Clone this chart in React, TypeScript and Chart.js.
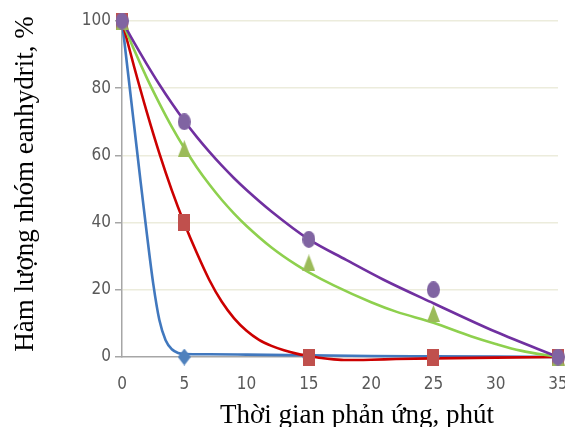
import { useEffect, useRef } from 'react';
import { Chart, registerables } from 'chart.js';

Chart.register(...registerables);

// ---- data ----
const markerTimes = [0, 5, 15, 25, 35];
const markerBlue = [100, 0, 0, 0, 0];
const markerRed = [100, 40, 0, 0, 0];
const markerGreen = [100, 62, 28, 13, 0];
const markerPurple = [100, 70, 35, 20, 0];

const curveBlueX = [0, 0.5, 1, 1.5, 2, 2.5, 3, 3.5, 4, 4.5, 5, 7, 10, 15, 20, 25, 30, 35];
const curveBlueY = [100, 84, 68, 52, 36.5, 22, 11, 5, 2.3, 1.2, 0.9, 0.8, 0.7, 0.5, 0.3, 0.2, 0.1, 0];

const curveRedX = [0, 1, 2, 3, 4, 5, 6, 7, 8, 9, 10, 11, 12, 13, 14, 15, 16, 17, 18, 20, 22, 25, 30, 35];
const curveRedY = [100, 86, 72.8, 60.6, 49.6, 39.8, 31, 23, 16.5, 11.5, 7.8, 5.1, 3.3, 2, 1, 0.3, -0.3, -0.7, -0.9, -0.8, -0.6, -0.4, -0.2, 0];

const curveGreenX = [0, 1, 2, 3, 4, 5, 6, 7, 8, 9, 10, 12, 14, 15, 17, 20, 22, 25, 28, 30, 32, 35];
const curveGreenY = [100, 91.2, 83, 75.5, 68.5, 62.2, 56.5, 51.4, 46.8, 42.7, 39, 32.6, 27.4, 25.2, 21.3, 16.3, 13.5, 10.2, 6.2, 3.9, 1.9, 0];

const curvePurpleX = [0, 1, 2, 3, 4, 5, 6, 7, 8, 9, 10, 12, 15, 18, 21, 25, 30, 35];
const curvePurpleY = [100, 93.4, 87.1, 81.1, 75.5, 70.3, 65.5, 61.1, 57, 53.2, 49.7, 43.3, 35, 28.9, 23, 16, 7.5, 0];

const xAxisTitle = 'Thời gian phản ứng, phút';
const yAxisTitle = 'Hàm lượng nhóm eanhydrit, %';

function makeMarker(shape: string, color: string, w: number, h: number) {
  const c = document.createElement('canvas');
  c.width = w;
  c.height = h;
  const g = c.getContext('2d') as CanvasRenderingContext2D;
  g.fillStyle = color;
  g.beginPath();
  if (shape === 'ellipse') {
    g.ellipse(w / 2, h / 2, w / 2, h / 2, 0, 0, Math.PI * 2);
  } else if (shape === 'rect') {
    g.rect(0, 0, w, h);
  } else if (shape === 'triangle') {
    g.moveTo(w / 2, 0);
    g.lineTo(w, h);
    g.lineTo(0, h);
    g.closePath();
  } else {
    g.moveTo(w / 2, 0);
    g.lineTo(w, h / 2);
    g.lineTo(w / 2, h);
    g.lineTo(0, h / 2);
    g.closePath();
  }
  g.fill();
  return c;
}

const titlePlugin = {
  id: 'axisTitles',
  afterDraw(chart: any) {
    const ctx = chart.ctx as CanvasRenderingContext2D;
    ctx.save();
    ctx.fillStyle = '#000';
    ctx.font = "27px 'Liberation Serif', 'Times New Roman', serif";
    ctx.textAlign = 'center';
    ctx.textBaseline = 'alphabetic';
    ctx.fillText(xAxisTitle, 357, 423);
    ctx.translate(33, 184);
    ctx.rotate(-Math.PI / 2);
    ctx.fillText(yAxisTitle, 0, 0);
    ctx.restore();
  },
};

export default function App() {
  const ref = useRef<HTMLCanvasElement | null>(null);

  useEffect(() => {
    if (!ref.current) return;
    const toXY = (xs: number[], ys: number[]) => xs.map((x, i) => ({ x, y: ys[i] }));

    const circle = makeMarker('ellipse', '#8064A2', 13, 17);
    const square = makeMarker('rect', '#C0504D', 12, 17);
    const tri = makeMarker('triangle', '#9BBB59', 13, 17);
    const diamond = makeMarker('diamond', '#4F81BD', 13, 17);

    const markerSet = (label: string, ys: number[], style: any) => ({
      label,
      data: toXY(markerTimes, ys),
      showLine: false,
      pointStyle: style,
      pointRadius: 7,
      pointHoverRadius: 7,
      borderWidth: 0,
      clip: false as any,
    });
    const curveSet = (label: string, xs: number[], ys: number[], color: string) => ({
      label,
      data: toXY(xs, ys),
      borderColor: color,
      backgroundColor: color,
      borderWidth: 2.6,
      pointRadius: 0,
      cubicInterpolationMode: 'monotone' as const,
      fill: false,
      clip: false as any,
    });

    const tickFont = { family: "'Liberation Sans Narrow', 'DejaVu Sans Condensed', sans-serif", size: 17 };

    const chart = new Chart(ref.current, {
      type: 'line',
      data: {
        datasets: [
          markerSet('Purple points', markerPurple, circle),
          markerSet('Green points', markerGreen, tri),
          markerSet('Red points', markerRed, square),
          markerSet('Blue points', markerBlue, diamond),
          curveSet('Purple curve', curvePurpleX, curvePurpleY, '#7030A0'),
          curveSet('Green curve', curveGreenX, curveGreenY, '#8ED04E'),
          curveSet('Red curve', curveRedX, curveRedY, '#CC0000'),
          curveSet('Blue curve', curveBlueX, curveBlueY, '#4178BE'),
        ] as any,
      },
      options: {
        responsive: false,
        animation: false,
        events: [],
        layout: { padding: { top: 21, right: 7, left: 0, bottom: 0 } },
        plugins: { legend: { display: false }, tooltip: { enabled: false } },
        scales: {
          x: {
            type: 'linear',
            min: 0,
            max: 35,
            grid: { display: false, drawTicks: false },
            border: { display: true, color: '#A6A6A6', width: 1.5 },
            ticks: { stepSize: 5, color: '#595959', font: tickFont, padding: 17, maxRotation: 0 },
            afterFit: (s: any) => {
              s.height = 70;
              s.paddingLeft = 0;
              s.paddingRight = 0;
            },
          },
          y: {
            type: 'linear',
            min: 0,
            max: 100,
            grid: {
              color: (c: any) => (c.tick && c.tick.value === 0 ? 'rgba(0,0,0,0)' : '#ECECDC'),
              lineWidth: 1.5,
              tickColor: '#A6A6A6',
              tickLength: 7,
            },
            border: { display: true, color: '#A6A6A6', width: 1.5 },
            ticks: { stepSize: 20, color: '#595959', font: tickFont, padding: 4 },
            afterFit: (s: any) => {
              s.width = 122;
              s.paddingTop = 0;
              s.paddingBottom = 0;
            },
          },
        },
      } as any,
      plugins: [titlePlugin],
    });
    return () => chart.destroy();
  }, []);

  return (
    <div style={{ position: 'absolute', left: 0, top: 0, width: 565, height: 427, background: '#fff' }}>
      <canvas ref={ref} width={565} height={427} style={{ width: 565, height: 427, display: 'block' }} />
    </div>
  );
}
